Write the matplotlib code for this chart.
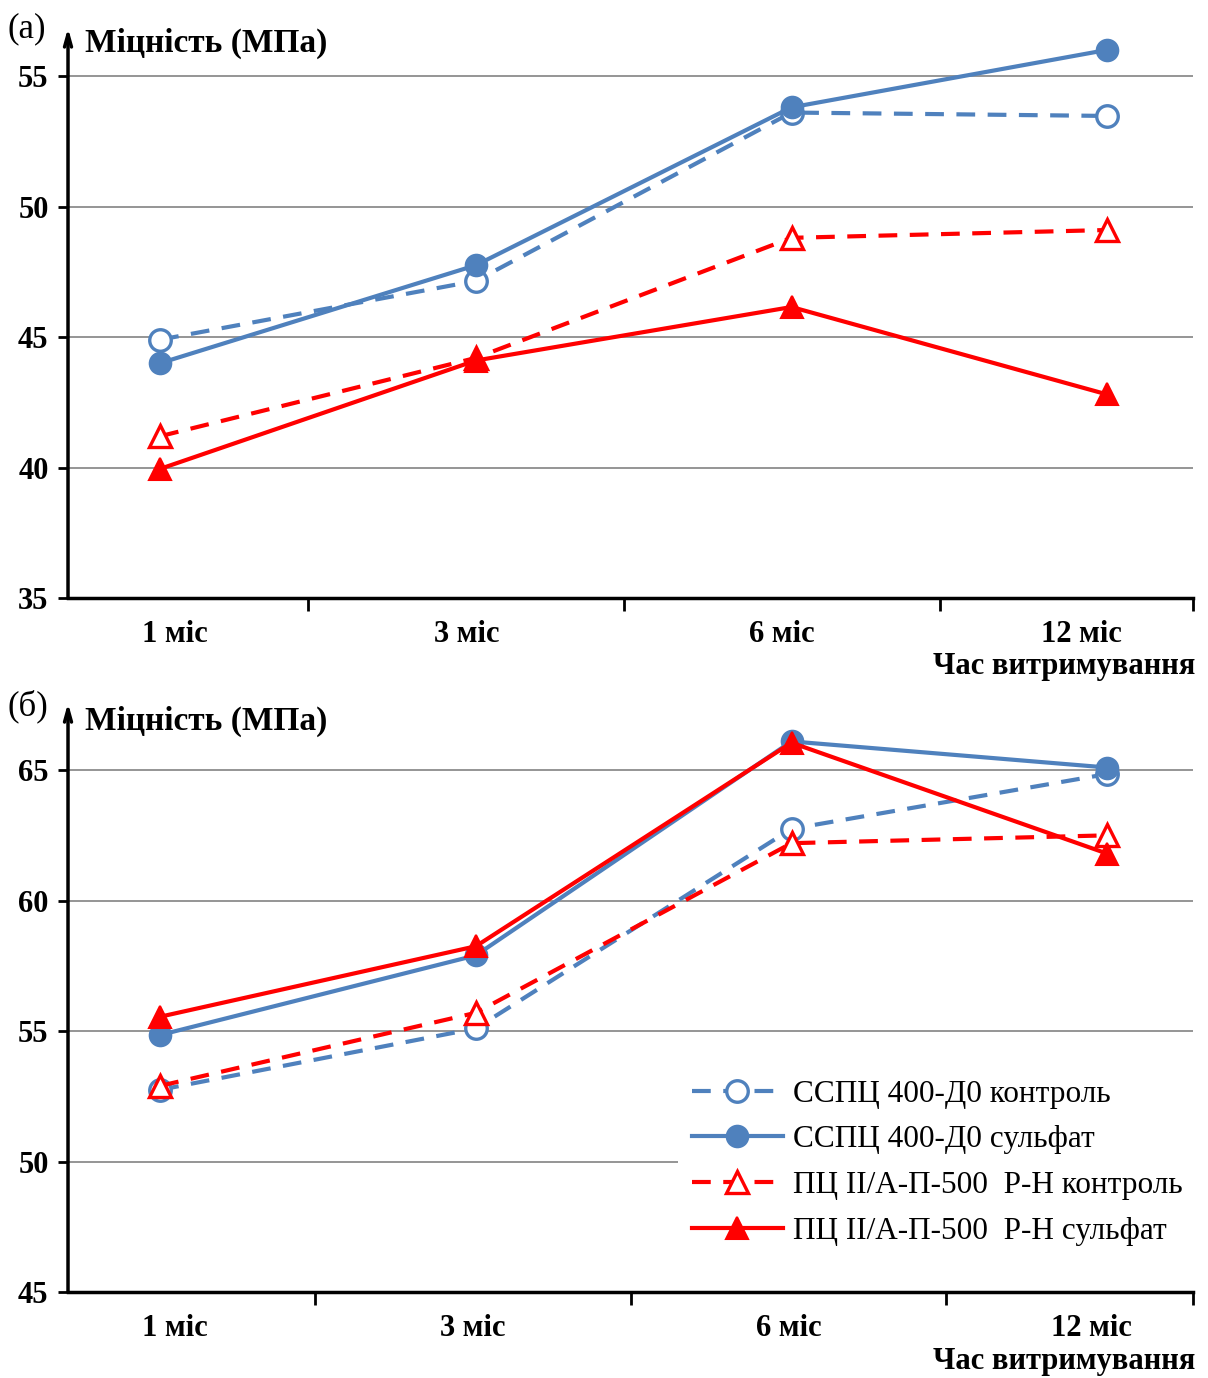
import numpy as np
import matplotlib.pyplot as plt

plt.rcParams['font.family'] = ['Liberation Serif', 'DejaVu Serif']

# Терміни витримування
months = ['1 міс', '3 міс', '6 міс', '12 міс']

# (а) міцність, МПа
a_sspc_ctrl = [44.9, 47.15, 53.6, 53.47]
a_sspc_sulf = [44.0, 47.75, 53.8, 56.0]
a_pc_ctrl = [41.2, 44.2, 48.8, 49.1]
a_pc_sulf = [39.95, 44.1, 46.15, 42.8]

# (б) міцність, МПа
b_sspc_ctrl = [52.75, 55.1, 62.75, 64.85]
b_sspc_sulf = [54.85, 57.9, 66.1, 65.1]
b_pc_ctrl = [52.9, 55.7, 62.2, 62.5]
b_pc_sulf = [55.55, 58.25, 66.05, 61.8]

labels = ['ССПЦ 400-Д0 контроль', 'ССПЦ 400-Д0 сульфат',
          'ПЦ ІІ/А-П-500  Р-Н контроль', 'ПЦ ІІ/А-П-500  Р-Н сульфат']

blue = '#4F81BD'
red = '#FF0000'
styles = [
    dict(color=blue, ls=(0, (4.5, 3)), marker='o', mfc='white', mec=blue, mew=2.4),
    dict(color=blue, ls='-', marker='o', mfc=blue, mec=blue, mew=1.5),
    dict(color=red, ls=(0, (4.5, 3)), marker='^', mfc='white', mec=red, mew=2.4),
    dict(color=red, ls='-', marker='^', mfc=red, mec=red, mew=1.5),
]

x = np.arange(len(months))
fig = plt.figure(figsize=(12.08, 13.78), dpi=100)


def draw_panel(ax, series, ylo, yhi, yticks, xticks, lab_x, letter, letter_y,
               title_y, legend=False):
    lines = []
    for vals, st, lab in zip(series, styles, labels):
        ln, = ax.plot(x, vals, lw=3.0, ms=15.5, label=lab, **st)
        lines.append(ln)
    ax.set_xlim(-0.292, 3.272)
    ax.set_ylim(ylo, yhi)
    ax.set_yticks(yticks)
    ax.set_yticklabels([str(t) for t in yticks], fontsize=22, fontweight='bold')
    ax.set_xticks(xticks)
    ax.set_xticklabels([])
    ax.tick_params(axis='x', direction='out', length=9, width=2)
    ax.tick_params(axis='y', direction='out', length=7, width=2, pad=7)
    ax.yaxis.grid(True, color='#8c8c8c', lw=1.3)
    ax.set_axisbelow(True)
    for s in ['top', 'right', 'left']:
        ax.spines[s].set_visible(False)
    ax.spines['bottom'].set_linewidth(2.5)
    # вертикальна вісь зі стрілкою
    ax.annotate('', xy=(0, 1.0), xytext=(0, 0), xycoords='axes fraction',
                arrowprops=dict(arrowstyle='->,head_length=0.9,head_width=0.25',
                                lw=2.5, color='black', shrinkA=0, shrinkB=0))
    for px, m in zip(lab_x, months):
        ax.text(px, -0.038, m, transform=ax.get_xaxis_transform(),
                ha='center', va='top', fontsize=22, fontweight='bold')
    ax.text(1.002, -0.094, 'Час витримування', transform=ax.transAxes,
            ha='right', va='top', fontsize=22, fontweight='bold')
    ax.text(0.015, title_y, 'Міцність (МПа)', transform=ax.transAxes,
            ha='left', va='baseline', fontsize=24, fontweight='bold')
    ax.text(-0.054, letter_y, letter, transform=ax.transAxes,
            ha='left', va='top', fontsize=25)
    if legend:
        leg = ax.legend(handles=lines, loc='lower right',
                        bbox_to_anchor=(1.003, 0.054),
                        fontsize=22.5, frameon=True, handlelength=2.9,
                        labelspacing=0.54, borderpad=0.45, handletextpad=0.32,
                        borderaxespad=0)
        leg.get_frame().set_edgecolor('none')
        leg.get_frame().set_facecolor('white')
        leg.get_frame().set_alpha(1.0)
        leg.get_frame().set_boxstyle('square', pad=0)


ax1 = fig.add_axes([0.0563, 0.5660, 0.9313, 0.4137])
draw_panel(ax1, [a_sspc_ctrl, a_sspc_sulf, a_pc_ctrl, a_pc_sulf],
           35, 56.84, [35, 40, 45, 50, 55], [0.469, 1.470, 2.471, 3.272],
           [0.047, 0.97, 1.97, 2.92], '(а)', 1.028, 0.958)

ax2 = fig.add_axes([0.0563, 0.0624, 0.9313, 0.4274])
draw_panel(ax2, [b_sspc_ctrl, b_sspc_sulf, b_pc_ctrl, b_pc_sulf],
           45, 67.57, [45, 50, 55, 60, 65], [0.49, 1.49, 2.49, 3.272],
           [0.047, 0.99, 1.99, 2.95], '(б)', 1.022, 0.954, legend=True)

fig.savefig('out.png', dpi=100)
